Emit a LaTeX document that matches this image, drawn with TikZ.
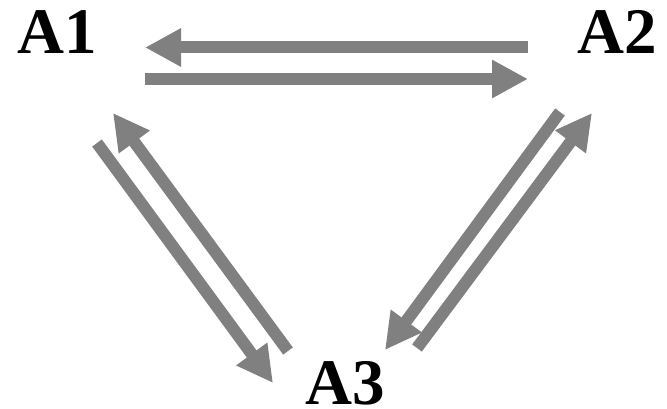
\documentclass[tikz,border=0pt]{standalone}
\usepackage{fontspec}
\setmainfont{Liberation Serif}
\usetikzlibrary{arrows.meta}
\definecolor{arrgray}{HTML}{808080}
\begin{document}
\begin{tikzpicture}[x=1pt,y=-1pt,
  lbl/.style={inner sep=0pt,font=\fontsize{65}{65}\selectfont\bfseries},
  bigarrow/.style={draw=arrgray,line width=12pt,-{Triangle[length=36pt,width=36pt]},fill=arrgray}]
\useasboundingbox (0,0) rectangle (667,409);
\node[lbl] (A1) at (57,32.5) {A1};
\node[lbl] (A2) at (617.5,32) {A2};
\node[lbl] (A3) at (345.5,383) {A3};
% top pair
\coordinate (t1s) at (528,47.5);
\coordinate (t1e) at (145,47.5);
\coordinate (t2s) at (145,79);
\coordinate (t2e) at (528,79);
% left pair
\coordinate (l1s) at (97,143);
\coordinate (l1e) at (273,383);
\coordinate (l2s) at (288,351);
\coordinate (l2e) at (113,113);
% right pair
\coordinate (r1s) at (560,112);
\coordinate (r1e) at (385,350);
\coordinate (r2s) at (417,348);
\coordinate (r2e) at (592,113);
\draw[bigarrow] (t1s) -- (t1e);
\draw[bigarrow] (t2s) -- (t2e);
\draw[bigarrow] (l1s) -- (l1e);
\draw[bigarrow] (l2s) -- (l2e);
\draw[bigarrow] (r1s) -- (r1e);
\draw[bigarrow] (r2s) -- (r2e);
\end{tikzpicture}
\end{document}
